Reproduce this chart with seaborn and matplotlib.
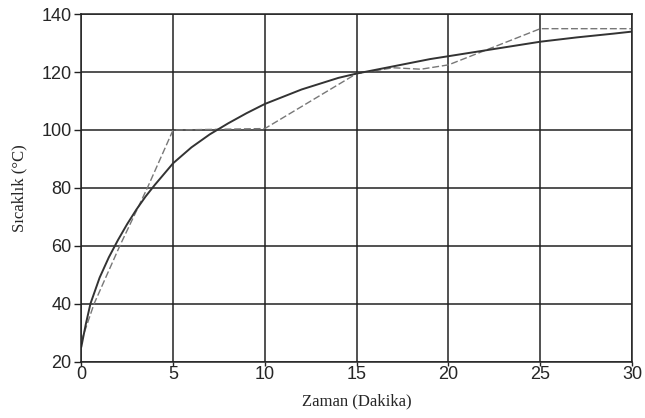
import seaborn as sns
import pandas as pd
import matplotlib.pyplot as plt

sns.set_style("whitegrid")
plt.rcParams['font.family'] = ['Liberation Sans', 'DejaVu Sans']

# measured curve (solid)
t_curve = [0, 0.25, 0.5, 1, 1.5, 2, 2.5, 3, 3.5, 4, 5, 6, 7, 8, 9, 10, 11, 12,
           13, 14, 15, 17, 19, 21, 23, 25, 27, 29, 30]
T_curve = [25, 33, 40, 49, 56, 62, 67.5, 72.5, 77, 81, 88.5, 94, 98.5, 102.3, 105.8,
           109, 111.5, 114, 116, 118, 119.5, 122, 124.5, 126.5, 128.5, 130.5,
           132, 133.3, 134]

# stepwise approximation (dashed)
t_approx = [0, 0.7, 2.1, 3.6, 5, 10, 15, 17, 18.5, 20, 25, 30]
T_approx = [27, 40, 60, 80, 100, 100.5, 119.5, 121.5, 121, 122.5, 135, 135]

x_ticks = [0, 5, 10, 15, 20, 25, 30]
y_ticks = [20, 40, 60, 80, 100, 120, 140]

df_curve = pd.DataFrame({"t": t_curve, "T": T_curve})
df_approx = pd.DataFrame({"t": t_approx, "T": T_approx})

fig, ax = plt.subplots(figsize=(6.45, 4.18), dpi=100)
fig.subplots_adjust(left=0.126, right=0.98, top=0.966, bottom=0.135)

sns.lineplot(data=df_approx, x="t", y="T", ax=ax, color="#777777",
             linewidth=1.0, linestyle=(0, (5, 2)))
sns.lineplot(data=df_curve, x="t", y="T", ax=ax, color="#333333", linewidth=1.4)

ax.set_xlim(0, 30)
ax.set_ylim(20, 140)
ax.set_xticks(x_ticks)
ax.set_yticks(y_ticks)
ax.grid(True, color="#222222", linewidth=1.1)
for s in ax.spines.values():
    s.set_color("#222222")
    s.set_linewidth(1.1)
ax.tick_params(axis="y", left=True, length=5, width=1, color="#222222",
               labelsize=13, pad=2)
ax.tick_params(axis="x", bottom=True, length=3, width=1, color="#222222",
               labelsize=13, pad=0)

ax.set_xlabel("Zaman (Dakika)", family=["Liberation Serif", "DejaVu Serif"],
              fontsize=12, labelpad=8)
ax.set_ylabel("Sıcaklık (°C)", family=["Liberation Serif", "DejaVu Serif"],
              fontsize=12, labelpad=10)

fig.savefig("out.png")
